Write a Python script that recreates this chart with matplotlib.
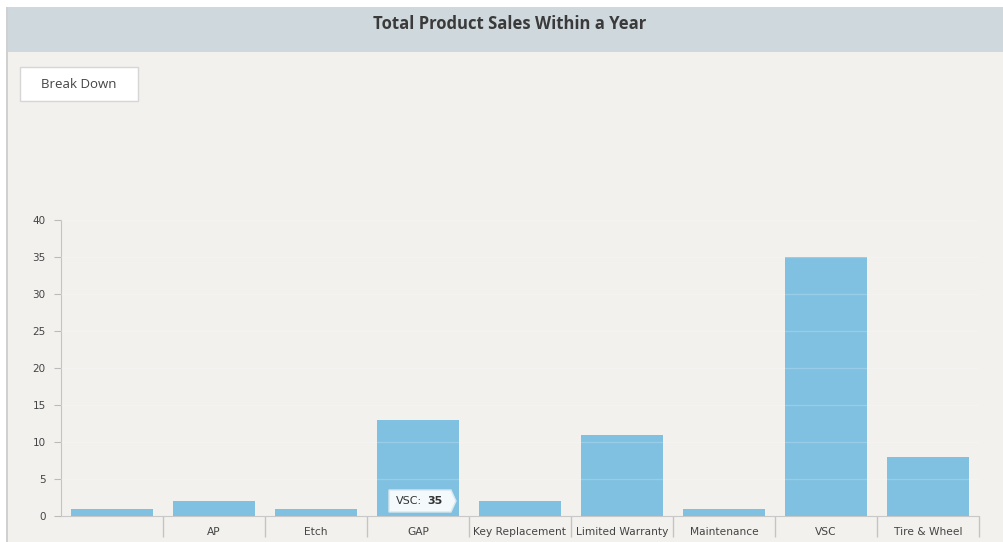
import numpy as np
import matplotlib.pyplot as plt
from matplotlib.patches import Rectangle, Polygon

categories = ["", "AP", "Etch", "GAP", "Key Replacement", "Limited Warranty",
              "Maintenance", "VSC", "Tire & Wheel"]
sales = [1, 2, 1, 13, 2, 11, 1, 35, 8]
yticks = [0, 5, 10, 15, 20, 25, 30, 35, 40]

W, H = 1004, 542
bg = "#f3f1ee"
bar_color = "#80c0e0"

fig = plt.figure(figsize=(W / 100, H / 100), dpi=100)
fig.patch.set_facecolor("white")

# panel background, header band, left border
fig.patches.append(Rectangle((7 / W, 0), 1, (H - 52) / H, transform=fig.transFigure,
                             facecolor=bg, edgecolor="none", zorder=-2))
fig.patches.append(Rectangle((7 / W, (H - 52) / H), 1, 45 / H, transform=fig.transFigure,
                             facecolor="#cfd8dd", edgecolor="none", zorder=-2))
fig.patches.append(Rectangle((6 / W, 0), 2 / W, (H - 7) / H, transform=fig.transFigure,
                             facecolor="#d0d0d0", edgecolor="none", zorder=-1))
fig.text(510 / W, 1 - 24 / H, "Total Product Sales Within a Year", ha="center", va="center",
         fontsize=12, fontweight="bold", color="#3a3a3a", family="Open Sans")

# "Break Down" button
fig.patches.append(Rectangle((20 / W, 1 - 101 / H), 118 / W, 34 / H, transform=fig.transFigure,
                             facecolor="white", edgecolor="#d6d6d6", lw=1, zorder=2))
fig.text(79 / W, 1 - 85 / H, "Break Down", ha="center", va="center", fontsize=9.5,
         color="#444444", family="Open Sans", zorder=3)

ax = fig.add_axes([61 / W, 26 / H, (979 - 61) / W, (516 - 220) / H])
ax.set_zorder(2)
ax.set_facecolor("none")
x = np.arange(len(categories))
ax.bar(x, sales, width=0.8, color=bar_color, zorder=2)
for y in yticks[1:]:
    ax.axhline(y, color="white", alpha=0.2, lw=1, zorder=3)

ax.set_xlim(-0.5, len(categories) - 0.5)
ax.set_ylim(0, 40)
ax.set_yticks(yticks)
ax.tick_params(axis="y", length=5, color="#bbbbbb", labelsize=7.5, labelcolor="#444444", pad=6)
ax.set_xticks(x)
ax.set_xticklabels(categories)
ax.tick_params(axis="x", which="major", length=0, labelsize=7.7, labelcolor="#444444", pad=8)
ax.set_xticks(np.arange(0.5, len(categories)), minor=True)
ax.tick_params(axis="x", which="minor", length=15, color="#c4c4c4", width=1)
for s in ["top", "right"]:
    ax.spines[s].set_visible(False)
ax.spines["left"].set_color("#c4c4c4")
ax.spines["bottom"].set_color("#c8c8c8")

# tooltip
fig.patches.append(Polygon([(389 / W, 1 - 490 / H), (451 / W, 1 - 490 / H),
                            (456 / W, 1 - 501 / H), (451 / W, 1 - 512 / H),
                            (389 / W, 1 - 512 / H)], closed=True, transform=fig.transFigure,
                           facecolor="#f4f9fc", edgecolor="#d8e6ee", lw=1, zorder=5))
fig.text(396 / W, 1 - 501 / H, "VSC:", ha="left", va="center", fontsize=8,
         color="#333333", zorder=6)
fig.text(427 / W, 1 - 501 / H, str(sales[7]), ha="left", va="center", fontsize=8,
         fontweight="bold", color="#333333", zorder=6)

fig.savefig("out.png", dpi=100)
